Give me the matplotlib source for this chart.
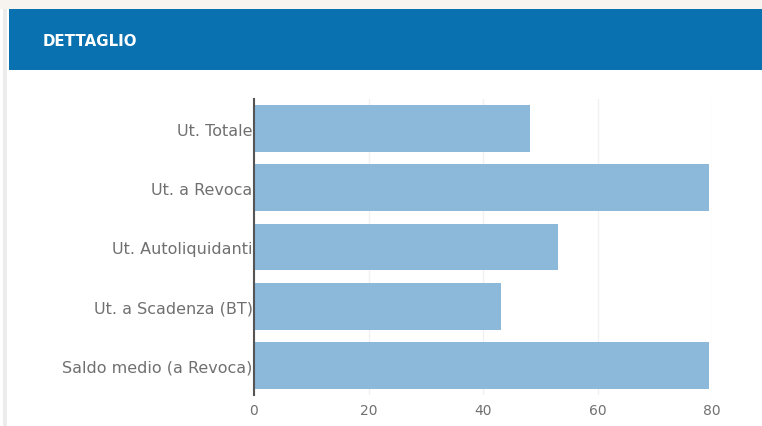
import matplotlib.pyplot as plt
from matplotlib.patches import Rectangle

categories = ['Ut. Totale', 'Ut. a Revoca', 'Ut. Autoliquidanti',
              'Ut. a Scadenza (BT)', 'Saldo medio (a Revoca)']
values = [48.2, 79.5, 53.1, 43.1, 79.5]
xticks = [0, 20, 40, 60, 80]
title = 'DETTAGLIO'

fig = plt.figure(figsize=(7.62, 4.27), dpi=100)
fig.patch.set_facecolor('white')

# page background above the panel + left border
fig.patches.append(Rectangle((0, 1 - 10 / 427), 1, 10 / 427, transform=fig.transFigure,
                             facecolor='#f7f3ee', edgecolor='none', zorder=0))
fig.patches.append(Rectangle((3 / 762, 0), 4 / 762, 1 - 10 / 427, transform=fig.transFigure,
                             facecolor='#ececec', edgecolor='none', zorder=0))
# blue header
fig.patches.append(Rectangle((9 / 762, 1 - 71 / 427), 1, 61 / 427, transform=fig.transFigure,
                             facecolor='#0a71b1', edgecolor='none', zorder=1))
fig.text(43 / 762, 1 - 42 / 427, title, color='white', fontsize=10.8, fontweight='bold',
         va='center', ha='left')

ax = fig.add_axes([254 / 762, 1 - 396 / 427, (712 - 254) / 762, (396 - 100) / 427])
y = range(len(categories))
ax.barh(y, values, height=0.79, color='#8cb8da', zorder=2)
ax.set_xlim(0, 80)
ax.set_ylim(len(categories) - 0.5, -0.5)
ax.set_yticks(list(y))
ax.set_yticklabels(categories)
ax.set_xticks(xticks)
ax.tick_params(length=0, labelcolor='#707070')
ax.tick_params(axis='x', pad=6, labelsize=10)
ax.tick_params(axis='y', pad=1, labelsize=11.5)
ax.grid(axis='x', color='#f0f0f0', linewidth=1, zorder=0)
for s in ['top', 'right', 'bottom']:
    ax.spines[s].set_visible(False)
ax.spines['left'].set_color('#555555')
ax.spines['left'].set_linewidth(1.5)
ax.spines['left'].set_zorder(3)

fig.savefig('out.png', dpi=100)
